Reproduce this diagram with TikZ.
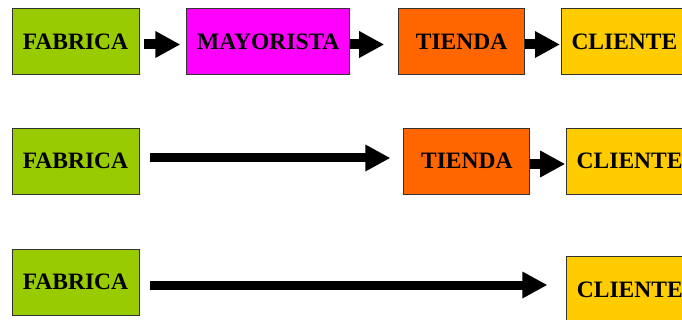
\documentclass[tikz,border=0pt]{standalone}
\usepackage{fontspec}
\setmainfont{Liberation Serif}
\usetikzlibrary{positioning,arrows.meta}

\definecolor{fabgreen}{HTML}{99CC00}
\definecolor{maymagenta}{HTML}{FF00FF}
\definecolor{tieorange}{HTML}{FF6600}
\definecolor{cliyellow}{HTML}{FFCC00}

\tikzset{
  stagebox/.style={draw=black!80, line width=0.8pt, rectangle, inner sep=0pt,
    minimum height=66pt, font=\fontsize{23.5}{28}\selectfont\bfseries},
  bigarrow/.style={line width=10pt, -{Triangle[length=25pt,width=25pt]}},
  longarrow/.style={line width=9pt, -{Triangle[length=25pt,width=25pt]}}
}

\begin{document}
\begin{tikzpicture}
    \clip (0,0) rectangle (682pt,-320pt);

    % Nodes
    \node (fabricaA) [stagebox, fill=fabgreen, minimum width=127pt] at (75.5pt,-41.5pt) {FABRICA};
    \node (mayorista) [stagebox, fill=maymagenta, minimum width=163pt, right=47pt of fabricaA] {MAYORISTA};
    \node (tiendaA) [stagebox, fill=tieorange, minimum width=126pt, right=48pt of mayorista] {TIENDA};
    \node (clienteA) [stagebox, fill=cliyellow, minimum width=126pt, right=36pt of tiendaA] {CLIENTE};

    \node (fabricaB) [stagebox, fill=fabgreen, minimum width=127pt] at (75.5pt,-161pt) {FABRICA};
    \node (tiendaB) [stagebox, fill=tieorange, minimum width=126pt, right=264pt of fabricaB] {TIENDA};
    \node (clienteB) [stagebox, fill=cliyellow, minimum width=126pt, right=36pt of tiendaB] {CLIENTE};

    \node (fabricaC) [stagebox, fill=fabgreen, minimum width=127pt] at (75.5pt,-282pt) {FABRICA};
    \node (clienteC) [stagebox, fill=cliyellow, minimum width=126pt, right=427pt of fabricaC, yshift=-7.5pt] {CLIENTE};

    % Arrows
    \draw[bigarrow, shorten <=5pt, shorten >=6pt] ([yshift=-3pt]fabricaA.east) -- ([yshift=-3pt]mayorista.west);
    \draw[bigarrow, shorten >=14pt] ([yshift=-3pt]mayorista.east) -- ([yshift=-3pt]tiendaA.west);
    \draw[bigarrow, shorten >=1pt] ([yshift=-3pt]tiendaA.east) -- ([yshift=-3pt]clienteA.west);

    \draw[longarrow, shorten <=11pt, shorten >=13pt] ([yshift=3pt]fabricaB.east) -- ([yshift=3pt]tiendaB.west);
    \draw[bigarrow, shorten >=1pt] ([yshift=-3pt]tiendaB.east) -- ([yshift=-3pt]clienteB.west);

    \draw[longarrow, shorten <=11pt, shorten >=19pt] ([yshift=-3pt]fabricaC.east) -- ([yshift=-3pt]fabricaC.east -| clienteC.west);
\end{tikzpicture}
\end{document}
